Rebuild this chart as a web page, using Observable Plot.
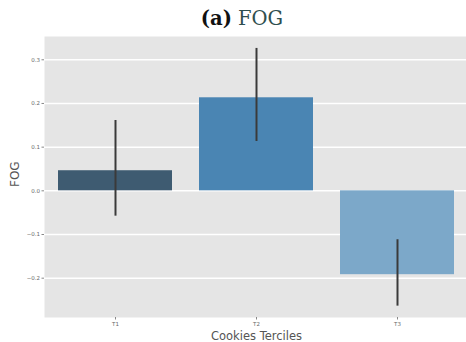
<!DOCTYPE html>
<html>
<head>
<meta charset="utf-8">
<script src="https://cdn.jsdelivr.net/npm/d3@7"></script>
<script src="https://cdn.jsdelivr.net/npm/@observablehq/plot@0.6"></script>
<style>
  html, body { margin: 0; padding: 0; background: #fff; }
  #title { width: 466px; height: 36px; box-sizing: border-box; padding-top: 7px; padding-left: 18px; text-align: center; font-family: "DejaVu Serif", serif; font-size: 19.5px; line-height: normal; white-space: nowrap; }
  #title b { color: #111; }
  #title span { color: #2f4f4f; }
  svg { display: block; }
</style>
</head>
<body>
<div id="title"><b>(a)</b> <span>FOG</span></div>
<div id="chart"></div>
<script>
const categories = ["T1", "T2", "T3"];
const values = [0.046, 0.213, -0.192];
const ciLow = [-0.058, 0.113, -0.264];
const ciHigh = [0.161, 0.326, -0.112];
const colors = ["#3e5b71", "#4a85b3", "#7ca8c9"];
const yTicks = [-0.2, -0.1, 0.0, 0.1, 0.2, 0.3];
const xLabel = "Cookies Terciles";
const yLabel = "FOG";

const data = categories.map((c, i) => ({cat: c, value: values[i], lo: ciLow[i], hi: ciHigh[i], color: colors[i]}));

const chart = Plot.plot({
  width: 466,
  height: 306,
  marginTop: 0,
  marginBottom: 25,
  marginLeft: 44,
  marginRight: -2,
  style: {background: "transparent", color: "#555", fontFamily: "DejaVu Sans, sans-serif"},
  x: {domain: categories, paddingInner: 0.19, paddingOuter: 0.095, label: null},
  y: {domain: [-0.29, 0.3533], label: null},
  marks: [
    Plot.frame({fill: "#e5e5e5", stroke: null}),
    Plot.gridY(yTicks, {stroke: "#fff", strokeOpacity: 1, strokeWidth: 1.5}),
    Plot.barY(data, {x: "cat", y: "value", fill: "color"}),
    Plot.ruleX(data, {x: "cat", y1: "lo", y2: "hi", stroke: "#3a3a3a", strokeWidth: 2}),
    Plot.axisY(yTicks, {tickSize: 2.5, tickPadding: 2, fontSize: 5.5, stroke: "#888", fill: "#666", tickFormat: d3.format(".1f"), label: null}),
    Plot.axisX({tickSize: 2.5, tickPadding: 2, fontSize: 5.5, stroke: "#888", fill: "#666", label: null}),
    Plot.text([xLabel], {frameAnchor: "bottom", dy: 22, fontSize: 11.5, fill: "#555"}),
    Plot.text([yLabel], {frameAnchor: "left", dx: -29, dy: 10, rotate: -90, fontSize: 12, fill: "#555"})
  ]
});
document.getElementById("chart").appendChild(chart);
</script>
</body>
</html>
